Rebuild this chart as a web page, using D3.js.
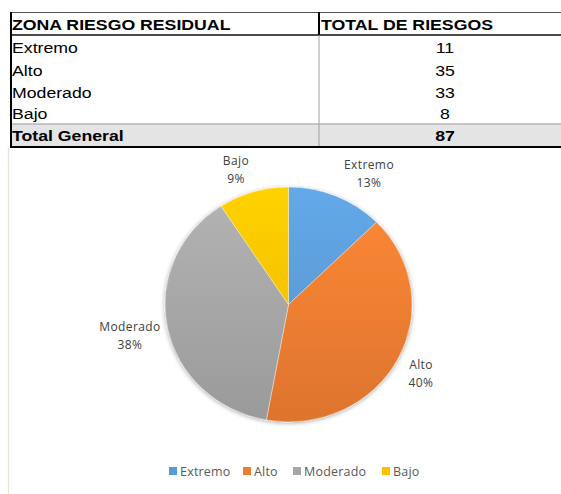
<!DOCTYPE html>
<html><head><meta charset="utf-8">
<script src="https://cdn.jsdelivr.net/npm/d3@7"></script>
<style>html,body{margin:0;padding:0;background:#fff;}svg{display:block;}</style>
</head><body>
<svg id="c" width="561" height="494"></svg>
<script>
const categories = ["Extremo", "Alto", "Moderado", "Bajo"];
const values = [11, 35, 33, 8];
const totalLabel = "Total General";
const headers = ["ZONA RIESGO RESIDUAL", "TOTAL DE RIESGOS"];
const colors = ["#5B9BD5", "#ED7D31", "#A5A5A5", "#FFC000"];

const svg = d3.select("#c");
const total = d3.sum(values);

// ---------- Table ----------
const T = {left: 10, top: 12, right: 561, colX: 319, numX: 445,
  rows: [12, 35, 58, 81, 103, 124, 146]};
const sx = 1.18;
const tg = svg.append("g");
tg.append("rect").attr("x", T.left).attr("y", T.rows[5]).attr("width", T.right - T.left).attr("height", T.rows[6] - T.rows[5]).attr("fill", "#e4e4e4");
tg.append("line").attr("x1", T.left).attr("x2", T.right).attr("y1", T.rows[0] + 0.5).attr("y2", T.rows[0] + 0.5).attr("stroke", "#555").attr("stroke-width", 1);
tg.append("line").attr("x1", T.left).attr("x2", T.right).attr("y1", T.rows[1]).attr("y2", T.rows[1]).attr("stroke", "#111").attr("stroke-width", 1.5);
tg.append("line").attr("x1", T.left).attr("x2", T.right).attr("y1", T.rows[5]).attr("y2", T.rows[5]).attr("stroke", "#b4b4b4").attr("stroke-width", 1.5);
tg.append("line").attr("x1", T.left).attr("x2", T.right).attr("y1", T.rows[6] + 1).attr("y2", T.rows[6] + 1).attr("stroke", "#000").attr("stroke-width", 2);
tg.append("line").attr("x1", T.left + 1).attr("x2", T.left + 1).attr("y1", T.rows[0]).attr("y2", T.rows[6] + 2).attr("stroke", "#000").attr("stroke-width", 2);
tg.append("line").attr("x1", T.colX).attr("x2", T.colX).attr("y1", T.rows[0]).attr("y2", T.rows[1]).attr("stroke", "#000").attr("stroke-width", 2);
tg.append("line").attr("x1", T.colX).attr("x2", T.colX).attr("y1", T.rows[1]).attr("y2", T.rows[6]).attr("stroke", "#a0a0a0").attr("stroke-width", 1);

function cellText(txt, x, y, bold, anchor) {
  tg.append("text").attr("transform", `translate(${x},${y}) scale(${sx},1)`)
    .attr("font-family", "'Liberation Sans', Arial, sans-serif")
    .attr("font-size", 15).attr("font-weight", bold ? "bold" : "normal")
    .attr("text-anchor", anchor || "start").attr("fill", "#000").text(txt);
}
const base = (i) => T.rows[i + 1] - 5;
cellText(headers[0], 12, base(0), true);
cellText(headers[1], 321, base(0), true);
categories.forEach((c, i) => {
  cellText(c, 12, base(i + 1), false);
  cellText(String(values[i]), T.numX, base(i + 1), false, "middle");
});
cellText(totalLabel, 12, base(5), true);
cellText(String(total), T.numX, base(5), true, "middle");

// sheet border below table
svg.append("line").attr("x1", 8.5).attr("x2", 8.5).attr("y1", 148).attr("y2", 494).attr("stroke", "#e9e5da").attr("stroke-width", 1.5);

// ---------- Pie ----------
const cx = 288.5, cy = 304.5, rx = 123.5, ry = 117.5;
const defs = svg.append("defs");
const f = defs.append("filter").attr("id", "sh").attr("x", "-20%").attr("y", "-20%").attr("width", "140%").attr("height", "140%");
f.append("feGaussianBlur").attr("in", "SourceAlpha").attr("stdDeviation", 2.5).attr("result", "b");
f.append("feOffset").attr("in", "b").attr("dx", 0).attr("dy", 1).attr("result", "o");
f.append("feComponentTransfer").attr("in", "o").attr("result", "o2").append("feFuncA").attr("type", "linear").attr("slope", 0.35);
const fm = f.append("feMerge");
fm.append("feMergeNode").attr("in", "o2");
fm.append("feMergeNode").attr("in", "SourceGraphic");

colors.forEach((c, i) => {
  const g = defs.append("linearGradient").attr("id", "g" + i)
    .attr("gradientUnits", "userSpaceOnUse")
    .attr("x1", 0).attr("y1", -rx).attr("x2", 0).attr("y2", rx);
  g.append("stop").attr("offset", "0%").attr("stop-color", d3.color(c).brighter(0.25));
  g.append("stop").attr("offset", "100%").attr("stop-color", d3.color(c).darker(0.2));
});

const pie = d3.pie().sort(null).value(d => d.v);
const data = pie(categories.map((c, i) => ({c, v: values[i], i})));
const arc = d3.arc().innerRadius(0).outerRadius(rx);
const pg = svg.append("g").attr("transform", `translate(${cx},${cy}) scale(1,${ry / rx})`).attr("filter", "url(#sh)");
pg.selectAll("path").data(data).join("path")
  .attr("d", arc).attr("fill", d => `url(#g${d.data.i})`)
  .attr("stroke", "#fff").attr("stroke-width", 0.4);

// data labels (best-fit placement)
const labelAnchors = {Extremo: [369, 169], Bajo: [236, 165], Moderado: [130, 331], Alto: [421, 369]};
const lg = svg.append("g").attr("font-family", "'Open Sans', 'Noto Sans', sans-serif").attr("font-size", 12).attr("fill", "#404040").attr("text-anchor", "middle");
data.forEach(d => {
  const p = labelAnchors[d.data.c];
  const pct = d3.format(".0%")(d.data.v / total);
  const t = lg.append("text").attr("x", p[0]).attr("y", p[1]).attr("letter-spacing", 0.4);
  t.append("tspan").attr("x", p[0]).text(d.data.c);
  t.append("tspan").attr("x", p[0]).attr("dy", 17.5).text(pct);
});

// ---------- Legend ----------
const legendX = [169, 243, 293, 382];
const leg = svg.append("g").attr("font-family", "'Open Sans', 'Noto Sans', sans-serif").attr("font-size", 12.5).attr("fill", "#595959");
categories.forEach((c, i) => {
  leg.append("rect").attr("x", legendX[i]).attr("y", 467).attr("width", 8).attr("height", 8).attr("fill", colors[i]);
  leg.append("text").attr("x", legendX[i] + 11).attr("y", 476).attr("letter-spacing", 0.2).text(c);
});
</script>
</body></html>
